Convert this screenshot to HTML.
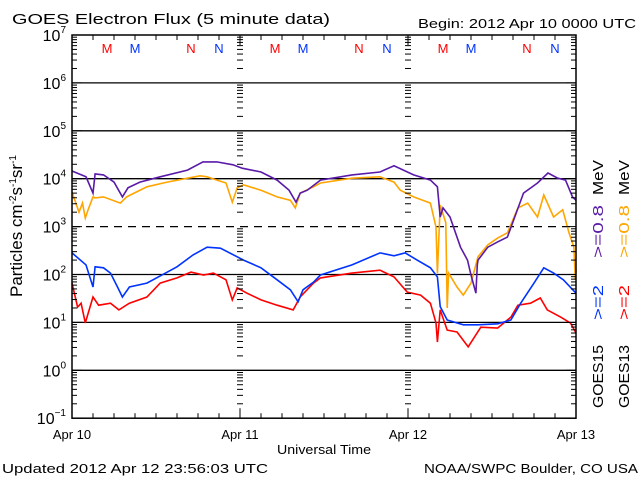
<!DOCTYPE html>
<html><head><meta charset="utf-8"><style>
body{margin:0;background:#fff;}
svg{display:block;font-family:"Liberation Sans",sans-serif;}
</style></head><body>
<svg id="chart" width="640" height="480" viewBox="0 0 640 480" xmlns="http://www.w3.org/2000/svg">
<rect width="640" height="480" fill="#fff"/>
<text x="12" y="24" font-size="15" textLength="318" lengthAdjust="spacingAndGlyphs">GOES Electron Flux (5 minute data)</text>
<text x="418" y="28" font-size="13" textLength="218" lengthAdjust="spacingAndGlyphs">Begin: 2012 Apr 10 0000 UTC</text>
<text x="2" y="473" font-size="13" textLength="266" lengthAdjust="spacingAndGlyphs">Updated 2012 Apr 12 23:56:03 UTC</text>
<text x="424" y="473" font-size="13" textLength="214" lengthAdjust="spacingAndGlyphs">NOAA/SWPC Boulder, CO USA</text>
<text x="324" y="454" font-size="13" text-anchor="middle" textLength="94" lengthAdjust="spacingAndGlyphs">Universal Time</text>
<text transform="translate(22,226) rotate(-90)" font-size="17" text-anchor="middle">Particles cm<tspan font-size="10" dy="-6">-2</tspan><tspan dy="6">s</tspan><tspan font-size="10" dy="-6">-1</tspan><tspan dy="6">sr</tspan><tspan font-size="10" dy="-6">-1</tspan></text>
<g transform="translate(603,408) rotate(-90)" font-size="15">
<text x="0" y="0" fill="#000" textLength="63" lengthAdjust="spacingAndGlyphs">GOES15</text>
<text x="88" y="0" fill="#0033ff" textLength="35" lengthAdjust="spacingAndGlyphs">&gt;=2</text>
<text x="150" y="0" fill="#5a1aa8" textLength="53" lengthAdjust="spacingAndGlyphs">&gt;=0.8</text>
<text x="213" y="0" fill="#000" textLength="35" lengthAdjust="spacingAndGlyphs">MeV</text>
</g>
<g transform="translate(629,408) rotate(-90)" font-size="15">
<text x="0" y="0" fill="#000" textLength="63" lengthAdjust="spacingAndGlyphs">GOES13</text>
<text x="88" y="0" fill="#ff0000" textLength="35" lengthAdjust="spacingAndGlyphs">&gt;=2</text>
<text x="150" y="0" fill="#ffa500" textLength="53" lengthAdjust="spacingAndGlyphs">&gt;=0.8</text>
<text x="213" y="0" fill="#000" textLength="35" lengthAdjust="spacingAndGlyphs">MeV</text>
</g>
<g id="grid"></g><g id="series"></g><g id="axes"></g>
</svg>
<script>
const dayLabels=["Apr 10","Apr 11","Apr 12","Apr 13"];
const yTickExps=[-1,0,1,2,3,4,5,6,7];
const markerLabels=["M","M","N","N"];
const markerHours=[5,9,17,21];
const markerColors=["#ff0000","#0033ff","#ff0000","#0033ff"];
const purpleH=[0,2,3,3.3,4.5,6,7.2,8,9.7,12.6,16.5,18.7,20.7,23,24.3,27,29.3,31,32,32.6,33.6,35.5,40,44,46,48.8,51.2,52.2,52.6,53,54,55.5,56.5,57,57.7,57.9,58,59.4,60.8,62.2,63.1,64.5,66.5,68,69.4,70.5,71.5,72];
const purpleV=[4.16,4.04,3.70,4.10,4.08,3.93,3.62,3.81,3.93,4.04,4.18,4.35,4.35,4.29,4.22,4.14,3.97,3.76,3.51,3.70,3.76,3.97,4.08,4.14,4.27,4.08,3.97,3.83,3.20,3.39,3.20,2.57,2.30,1.99,1.61,2.2,2.30,2.57,2.68,2.78,3.14,3.70,3.91,4.12,4.01,3.97,3.62,3.55];
const orangeH=[0,1,1.5,1.9,2.3,3,3.3,4.5,6.9,7.8,10.7,13.6,16.5,18.3,19.3,20.7,22,22.9,23.6,24.5,27,29.3,31.2,31.9,32.6,34.5,35.5,40,44,46,46.9,48.8,51.2,52,52.2,52.6,53.4,53.6,53.8,55,55.9,57,58,59.4,60.8,62.2,63.7,65.1,66.5,67.4,68.8,70.1,71,71.7,71.9,72];
const orangeV=[3.72,3.30,3.49,3.18,3.35,3.62,3.60,3.62,3.49,3.62,3.83,3.93,4.01,4.06,4.04,3.97,3.91,3.51,3.81,3.87,3.76,3.62,3.55,3.39,3.70,3.83,3.91,4.01,4.04,3.93,3.76,3.62,3.49,2.99,2.03,3.45,3.08,1.30,2.03,1.74,1.57,1.82,2.37,2.62,2.76,2.87,3.39,3.49,3.20,3.66,3.20,3.35,2.87,2.57,1.89,2.1];
const blueH=[0,2,3,3.3,4.5,5.5,6.5,7.2,8.2,10.7,12.6,15,17.3,19.3,21.2,23.6,24.5,27,29.3,31.2,32.3,33,34.5,35.5,40,44,46,47.6,49.3,51.2,52.2,52.6,53.6,55.9,58,60.8,62.7,64.1,66,67.4,68.8,70.2,72];
const blueV=[2.45,2.20,1.74,2.16,2.14,2.03,1.74,1.53,1.74,1.82,1.97,2.16,2.41,2.57,2.55,2.37,2.30,2.14,1.89,1.68,1.43,1.68,1.84,1.99,2.20,2.45,2.39,2.45,2.30,2.14,1.95,1.33,1.05,0.95,0.95,0.97,1.05,1.40,1.82,2.14,2.03,1.89,1.61];
const redH=[0,0.8,1.3,1.9,3,3.8,5.5,6.7,8.2,10.7,12.6,15,17,18.8,20.2,22,22.9,23.6,25,27,29.3,31.6,32.6,34.5,35.5,40,44,46,47.9,49.8,51.2,52,52.2,52.6,53.6,55,56.6,58.4,60.8,62.7,63.7,65.5,66.9,67.9,69.8,71.2,72];
const redV=[1.82,1.32,1.40,0.99,1.53,1.36,1.40,1.26,1.40,1.53,1.82,1.93,2.05,1.99,2.03,1.89,1.47,1.72,1.61,1.47,1.36,1.26,1.53,1.82,1.93,2.03,2.09,1.95,1.63,1.57,1.40,0.99,0.59,1.26,0.84,0.80,0.49,0.90,0.88,1.11,1.36,1.40,1.51,1.26,1.11,0.99,0.78];
const X0=72,X1=576,Y7=35,DEC=47.9;
function xs(h){return X0+(X1-X0)*h/72;}
function ys(l){return Y7+(7-l)*DEC;}
const NS="http://www.w3.org/2000/svg";
function mk(tag,attrs,parent){const e=document.createElementNS(NS,tag);for(const k in attrs)e.setAttribute(k,attrs[k]);parent.appendChild(e);return e;}
const grid=document.getElementById('grid'),series=document.getElementById('series'),axes=document.getElementById('axes');
yTickExps.forEach(e=>{
 if(e===7||e===-1)return;
 const l=mk('line',{x1:X0,x2:X1,y1:ys(e),y2:ys(e),stroke:'#000','stroke-width':1.3},grid);
 if(e===3)l.setAttribute('stroke-dasharray','8,6');
 
 
});
for(let e=-1;e<7;e++){for(let m=2;m<10;m++){const y=ys(e+Math.log10(m));
 mk('line',{x1:X0,x2:X0+5,y1:y,y2:y,stroke:'#000'},axes);
 mk('line',{x1:X1-5,x2:X1,y1:y,y2:y,stroke:'#000'},axes);
 [1,2].forEach(d=>{const xd=xs(24*d);mk('line',{x1:xd-3,x2:xd+3,y1:y,y2:y,stroke:'#000'},axes);});
}}
yTickExps.forEach(e=>{
 const y=ys(e);
 mk('line',{x1:X0,x2:X0+10,y1:y,y2:y,stroke:'#000'},axes);
 mk('line',{x1:X1-10,x2:X1,y1:y,y2:y,stroke:'#000'},axes);
 const t=mk('text',{x:X0-6,y:y+6,'font-size':16,'text-anchor':'end'},axes);
 
 
 t.innerHTML='10<tspan font-size="10" dy="-8">'+(e<0?'&#8722;1':e)+'</tspan>';
});
for(let h=0;h<=72;h+=3){const x=xs(h);const L=(h%24===0)?10:5;
 mk('line',{x1:x,x2:x,y1:ys(-1),y2:ys(-1)-L,stroke:'#000'},axes);
 mk('line',{x1:x,x2:x,y1:Y7,y2:Y7+L,stroke:'#000'},axes);}
dayLabels.forEach((d,i)=>{const t=mk('text',{x:xs(24*i),y:439,'font-size':13,'text-anchor':'middle'},axes);t.textContent=d;
 
 });
mk('rect',{x:X0,y:Y7,width:X1-X0,height:ys(-1)-Y7,fill:'none',stroke:'#000','stroke-width':1.5},axes);
for(let d=0;d<3;d++)markerHours.forEach((h,i)=>{const t=mk('text',{x:xs(h+24*d),y:53,'font-size':13,'text-anchor':'middle',fill:markerColors[i]},axes);t.textContent=markerLabels[i];
 
 });
function draw(H,V,color,name){let pts=[];for(let i=0;i<H.length;i++){pts.push(xs(H[i]).toFixed(1)+','+ys(V[i]).toFixed(1));}
 const p=mk('polyline',{points:pts.join(' '),fill:'none',stroke:color,'stroke-width':1.6,'stroke-linejoin':'miter'},series);
 
 }
draw(orangeH,orangeV,'#ffa500','goes13-0.8mev-line');
draw(purpleH,purpleV,'#5a1aa8','goes15-0.8mev-line');
draw(redH,redV,'#ff0000','goes13-2mev-line');
draw(blueH,blueV,'#0033ff','goes15-2mev-line');
</script>
</body></html>
